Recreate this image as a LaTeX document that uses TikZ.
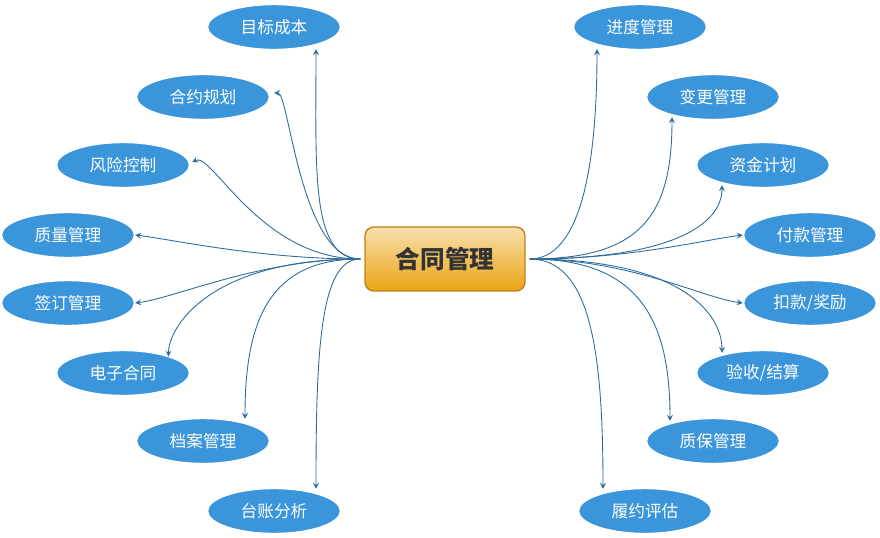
\documentclass[tikz,border=0pt]{standalone}
\usepackage{fontspec}
\setmainfont{Noto Sans CJK SC}
\usetikzlibrary{shapes.geometric, arrows, calc, positioning, shadows}
\definecolor{itemblue}{HTML}{3A95DB}
\definecolor{linkblue}{HTML}{2E6A9A}
\definecolor{hubgold}{HTML}{EBA415}
\tikzstyle{item} = [ellipse, draw=white, line width=0.8pt, fill=itemblue,
	text=white, minimum width=2.66cm, minimum height=0.9cm, font=\fontsize{9.5}{11}\selectfont]
\tikzstyle{hub} = [rectangle, rounded corners=5pt, draw=hubgold!80!black, line width=0.8pt,
	top color=hubgold!35!white, bottom color=hubgold, minimum width=3.2cm,
	minimum height=1.28cm, font=\fontsize{14}{16}\selectfont\bfseries, text=black!80]
\tikzstyle{link} = [->, >=stealth, linkblue, line width=0.5pt]

\begin{document}
\begin{tikzpicture}[x=0.02cm, y=-0.02cm]
	\useasboundingbox (0,0) rectangle (880,538);

	\node (hub) [hub] at (445,259) {合同管理};

	% left side
	\node (mubiao) [item] at (274,27) {目标成本};
	\node (heyue) [item] at (203,97) {合约规划};
	\node (fengxian) [item] at (123,165) {风险控制};
	\node (zhiliang) [item] at (68,235) {质量管理};
	\node (qianding) [item] at (68,303) {签订管理};
	\node (dianzi) [item] at (123,373) {电子合同};
	\node (dangan) [item] at (203,441) {档案管理};
	\node (taizhang) [item] at (274,511) {台账分析};

	% right side
	\node (jindu) [item] at (640,27) {进度管理};
	\node (biangeng) [item] at (713,97) {变更管理};
	\node (zijin) [item] at (763,165) {资金计划};
	\node (fukuan) [item] at (810,235) {付款管理};
	\node (koukuan) [item] at (810,303) {扣款/奖励};
	\node (yanshou) [item] at (763,373) {验收/结算};
	\node (zhibao) [item] at (713,441) {质保管理};
	\node (lvyue) [item] at (645,511) {履约评估};

	\coordinate (hl) at ($(hub.west)+(-4,0)$);
	\coordinate (hr) at ($(hub.east)+(4,0)$);

	\draw [link] (hl) .. controls +(-50,0) and +(0,120) .. ($(mubiao.south)+(42,-1)$);
	\draw [link] (hl) .. controls +(-60,0) and +(15,0) .. ($(heyue.east)+(4,-4)$);
	\draw [link] (hl) .. controls +(-100,0) and +(20,-10) .. ($(fengxian.east)+(2,-3)$);
	\draw [link] (hl) .. controls +(-100,0) and +(40,5) .. (zhiliang.east);
	\draw [link] (hl) .. controls +(-100,0) and +(40,-5) .. (qianding.east);
	\draw [link] (hl) .. controls +(-150,0) and +(0,-30) .. ($(dianzi.north east)+(-2,0)$);
	\draw [link] (hl) .. controls +(-90,0) and +(0,-100) .. ($(dangan.north)+(42,1)$);
	\draw [link] (hl) .. controls +(-40,0) and +(0,-140) .. ($(taizhang.north)+(42,1)$);

	\draw [link] (hr) .. controls +(50,0) and +(0,120) .. ($(jindu.south)+(-43,-1)$);
	\draw [link] (hr) .. controls +(110,0) and +(0,100) .. ($(biangeng.south)+(-41,-3)$);
	\draw [link] (hr) .. controls +(140,0) and +(0,40) .. ($(zijin.south)+(-41,-3)$);
	\draw [link] (hr) .. controls +(100,0) and +(-40,5) .. (fukuan.west);
	\draw [link] (hr) .. controls +(100,0) and +(-40,-5) .. (koukuan.west);
	\draw [link] (hr) .. controls +(150,0) and +(0,-40) .. ($(yanshou.north)+(-41,3)$);
	\draw [link] (hr) .. controls +(110,0) and +(0,-100) .. ($(zhibao.north)+(-43,3)$);
	\draw [link] (hr) .. controls +(60,0) and +(0,-140) .. ($(lvyue.north)+(-42,1)$);
\end{tikzpicture}
\end{document}
